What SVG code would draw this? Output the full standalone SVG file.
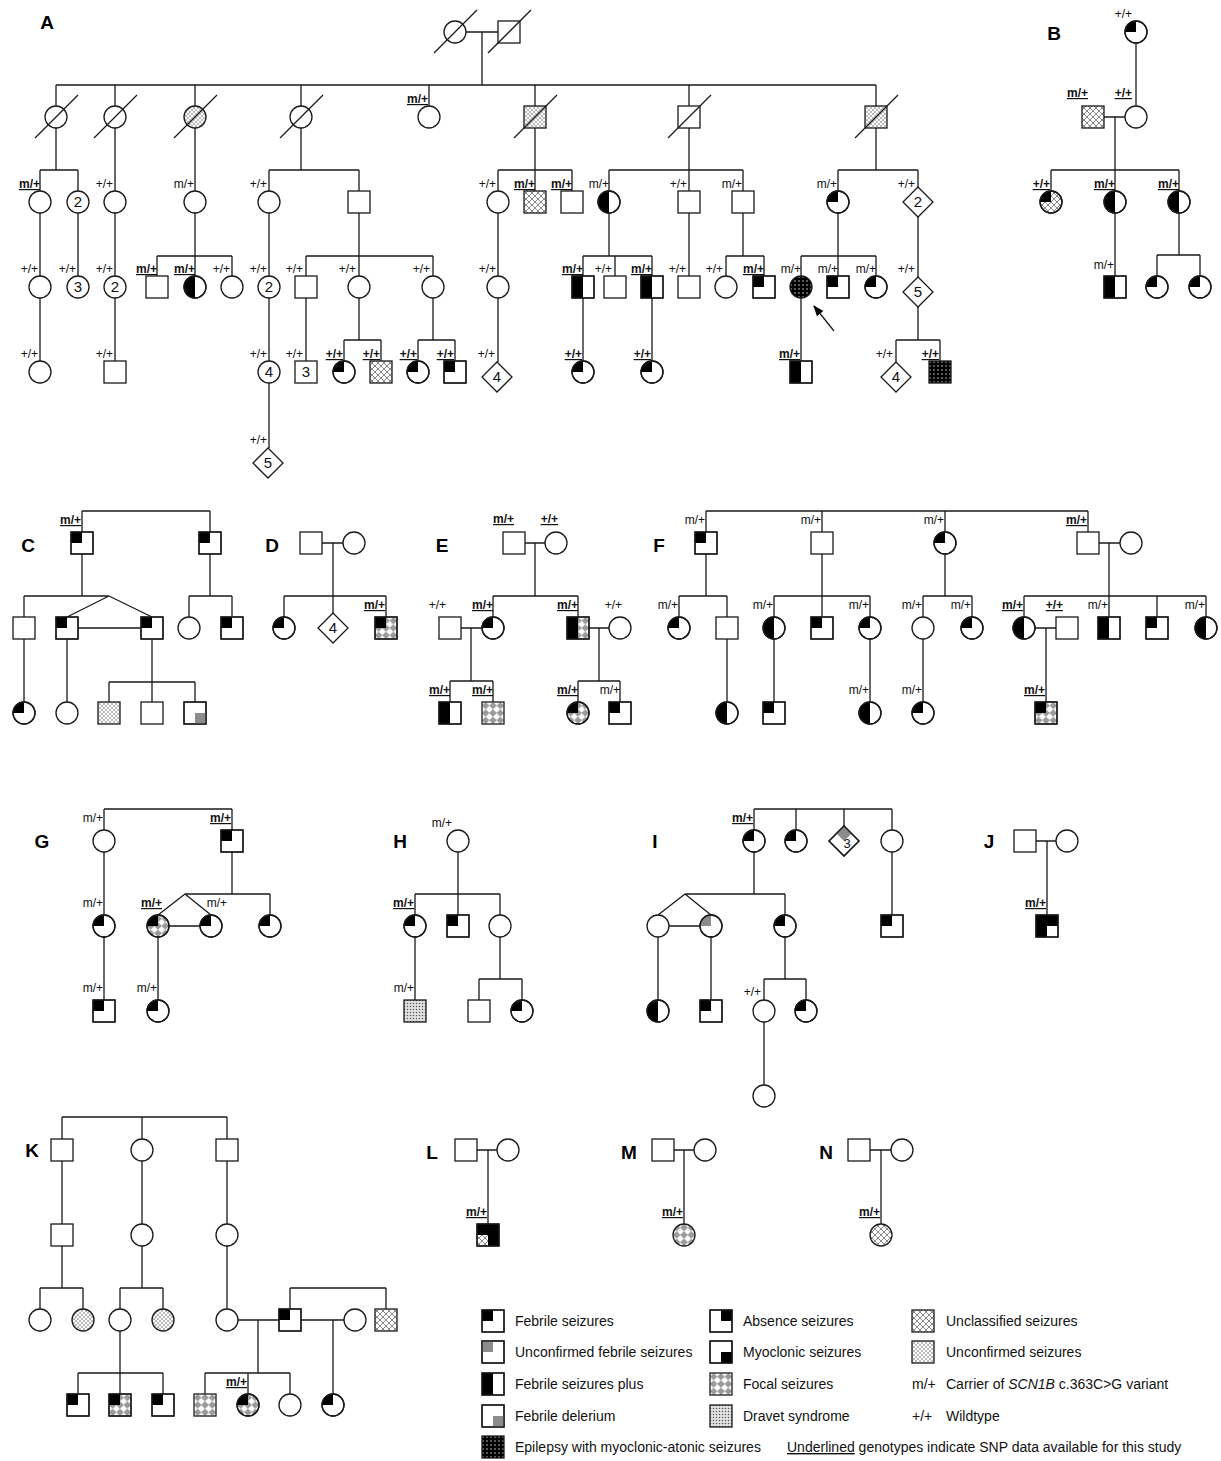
<svg xmlns="http://www.w3.org/2000/svg" xmlns:xlink="http://www.w3.org/1999/xlink" width="1221" height="1461" viewBox="0 0 1221 1461">
<style>
.o{fill:#fff;stroke:#1a1a1a;stroke-width:1.3}
.n{fill:none;stroke:#1a1a1a;stroke-width:1.3}
.k{fill:#000}
.g{fill:#8c8c8c}
.fX{fill:url(#pX)}
.fD{fill:url(#pDot)}
.fV{fill:url(#pDrv)}
.fF{fill:url(#pFoc)}
.fE{fill:url(#pEMA)}
.ln{fill:none;stroke:#1a1a1a;stroke-width:1.3}
.gt{font-family:"Liberation Sans",Arial,sans-serif;font-size:12px;fill:#111;text-anchor:end}
.gb{font-weight:bold;text-decoration:underline}
.num{font-family:"Liberation Sans",Arial,sans-serif;font-size:15px;fill:#111;text-anchor:middle}
.pl{font-family:"Liberation Sans",Arial,sans-serif;font-size:19px;font-weight:bold;fill:#000;text-anchor:middle}
.lg{font-family:"Liberation Sans",Arial,sans-serif;font-size:14px;fill:#111}
</style>
<defs>
<pattern id="pX" width="6" height="6" patternUnits="userSpaceOnUse"><rect width="6" height="6" fill="#fff"/><path d="M0,0L6,6M6,0L0,6" stroke="#555" stroke-width="0.7"/></pattern>
<pattern id="pDot" width="4" height="4" patternUnits="userSpaceOnUse"><rect width="4" height="4" fill="#fff"/><circle cx="1" cy="1" r="0.75" fill="#555"/><circle cx="3" cy="3" r="0.75" fill="#555"/></pattern>
<pattern id="pDrv" width="3" height="3" patternUnits="userSpaceOnUse"><rect width="3" height="3" fill="#e2e2e2"/><circle cx="1.5" cy="1.5" r="0.75" fill="#555"/></pattern>
<pattern id="pFoc" x="-11" y="-11" width="7.333" height="7.333" patternUnits="userSpaceOnUse"><rect width="7.333" height="7.333" fill="#fff"/><polygon points="3.67,0.4 6.93,3.67 3.67,6.93 0.4,3.67" fill="#9a9a9a" stroke="#5a5a5a" stroke-width="0.5"/></pattern>
<pattern id="pEMA" width="4" height="4" patternUnits="userSpaceOnUse"><rect width="4" height="4" fill="#000"/><circle cx="2" cy="2" r="0.65" fill="#fff"/></pattern>
<marker id="arr" viewBox="0 0 10 10" refX="9" refY="5" markerWidth="11" markerHeight="11" orient="auto" markerUnits="userSpaceOnUse"><path d="M0,1.2L10,5L0,8.8z" fill="#000"/></marker>
<circle id="c" r="11"/>
<rect id="s" x="-11" y="-11" width="22" height="22"/>
<polygon id="d" points="0,-15 15,0 0,15 -15,0"/>
<path id="cTL" d="M0,0H-11A11,11 0 0 1 0,-11Z"/>
<path id="cL" d="M0,-11A11,11 0 0 0 0,11Z"/>
<rect id="sTL" x="-11" y="-11" width="11" height="11"/>
<rect id="sTR" x="0" y="-11" width="11" height="11"/>
<rect id="sBR" x="0" y="0" width="11" height="11"/>
<rect id="sL" x="-11" y="-11" width="11" height="22"/>
<rect id="sR" x="0" y="-11" width="11" height="22"/>
<polygon id="dT" points="0,-15 7.5,-7.5 0,0 -7.5,-7.5"/>
<line id="dec" class="n" x1="-21" y1="21" x2="22" y2="-22"/>
<g id="C0"><use href="#c" class="o"/></g>
<g id="S0"><use href="#s" class="o"/></g>
<g id="D0"><use href="#d" class="o"/></g>
<g id="CFS"><use href="#c" class="o"/><use href="#cTL" class="k"/><use href="#c" class="n"/></g>
<g id="SFS"><use href="#s" class="o"/><use href="#sTL" class="k"/><use href="#s" class="n"/></g>
<g id="CHF"><use href="#c" class="o"/><use href="#cL" class="k"/><use href="#c" class="n"/></g>
<g id="SHF"><use href="#s" class="o"/><use href="#sL" class="k"/><use href="#s" class="n"/></g>
<g id="CX"><use href="#c" class="o fX"/></g>
<g id="SX"><use href="#s" class="o fX"/></g>
<g id="CXFS"><use href="#c" class="o fX"/><use href="#cTL" class="k"/><use href="#c" class="n"/></g>
<g id="CDot"><use href="#c" class="o fD"/></g>
<g id="SDot"><use href="#s" class="o fD"/></g>
<g id="SDrv"><use href="#s" class="o fV"/></g>
<g id="CFoc"><use href="#c" class="o fF"/></g>
<g id="SFoc"><use href="#s" class="o fF"/></g>
<g id="CFocFS"><use href="#c" class="o fF"/><use href="#cTL" class="k"/><use href="#c" class="n"/></g>
<g id="SFocFS"><use href="#s" class="o fF"/><use href="#sTL" class="k"/><use href="#s" class="n"/></g>
<g id="SHFFoc"><use href="#s" class="o fF"/><use href="#sL" class="k"/><use href="#s" class="n"/></g>
<g id="CEMA"><use href="#c" class="o fE"/></g>
<g id="SEMA"><use href="#s" class="o fE"/></g>
<g id="SFD"><use href="#s" class="o"/><use href="#sBR" class="g"/><use href="#s" class="n"/></g>
<g id="CUFS"><use href="#c" class="o"/><use href="#cTL" class="g"/><use href="#c" class="n"/></g>
<g id="SUFS"><use href="#s" class="o"/><use href="#sTL" class="g"/><use href="#s" class="n"/></g>
<g id="DUFS"><use href="#d" class="o"/><use href="#dT" class="g"/><use href="#d" class="n"/></g>
<g id="SAbs"><use href="#s" class="o"/><use href="#sTR" class="k"/><use href="#s" class="n"/></g>
<g id="SMyo"><use href="#s" class="o"/><use href="#sBR" class="k"/><use href="#s" class="n"/></g>
<g id="SJ"><use href="#s" class="o"/><use href="#sL" class="k"/><use href="#sTR" class="k"/><use href="#s" class="n"/></g>
<g id="SL"><use href="#s" class="o fX"/><use href="#sR" class="k"/><use href="#sTL" class="k"/><use href="#s" class="n"/></g>
</defs>
<rect width="1221" height="1461" fill="#fff"/>

<g id="panel-labels">
<text class="pl" x="47" y="29">A</text>
<text class="pl" x="1054" y="40">B</text>
<text class="pl" x="28" y="552">C</text>
<text class="pl" x="272" y="552">D</text>
<text class="pl" x="442" y="552">E</text>
<text class="pl" x="659" y="552">F</text>
<text class="pl" x="42" y="848">G</text>
<text class="pl" x="400" y="848">H</text>
<text class="pl" x="655" y="848">I</text>
<text class="pl" x="989" y="848">J</text>
<text class="pl" x="32" y="1157">K</text>
<text class="pl" x="432" y="1159">L</text>
<text class="pl" x="629" y="1159">M</text>
<text class="pl" x="826" y="1159">N</text>
</g>

<g id="connectors">
<path class="ln" d="M466,32H498 M482,32V85 M56,85H876 M56,85V106 M115,85V106 M195,85V106 M301,85V106 M429,85V106 M535,85V106 M689,85V106 M876,85V106
M56,128V170 M40,170H78 M40,170V191 M78,170V191 M115,128V191 M195,128V191
M301,128V170 M269,170H359 M269,170V191 M359,170V191
M535,128V170 M498,170H572 M498,170V191 M535,170V191 M572,170V191
M689,128V170 M609,170H743 M609,170V191 M689,170V191 M743,170V191
M876,128V170 M838,170H918 M838,170V191 M918,170V187
M40,213V276 M78,213V276 M115,213V276
M195,213V256 M157,256H232 M157,256V276 M195,256V276 M232,256V276
M269,213V276
M359,213V256 M306,256H433 M306,256V276 M359,256V276 M433,256V276
M498,213V276
M609,213V256 M583,256H652 M583,256V276 M615,256V276 M652,256V276
M689,213V276
M743,213V256 M726,256H764 M726,256V276 M764,256V276
M838,213V256 M801,256H876 M801,256V276 M838,256V276 M876,256V276
M918,217V277
M40,298V361 M115,298V361 M269,298V361 M306,298V361
M359,298V340 M344,340H381 M344,340V361 M381,340V361
M433,298V340 M418,340H455 M418,340V361 M455,340V361
M498,298V362 M583,298V361 M652,298V361 M801,298V361
M918,307V340 M896,340H940 M896,340V362 M940,340V361
M269,383V448"/>
<line class="ln" x1="834" y1="331" x2="814" y2="306" marker-end="url(#arr)"/>
<path class="ln" d="M1136,43V106 M1104,117H1125 M1115,117V170 M1051,170H1179 M1051,170V191 M1115,170V191 M1179,170V191 M1115,213V276 M1179,213V255 M1157,255H1200 M1157,255V276 M1200,255V276"/>
<path class="ln" d="M82,511H210 M82,511V532 M210,511V532 M82,554V596 M24,596H109 M24,596V617 M109,596L67,617 M109,596L152,617 M78,628H141 M210,554V596 M189,596H232 M189,596V617 M232,596V617 M24,639V702 M67,639V702 M152,639V682 M109,682H195 M109,682V702 M152,682V702 M195,682V702"/>
<path class="ln" d="M322,543H343 M333,543V596 M284,596H386 M284,596V617 M333,596V613 M386,596V617"/>
<path class="ln" d="M525,543H545 M535,543V596 M493,596H578 M493,596V617 M578,596V617 M461,628H482 M471,628V681 M450,681H493 M450,681V702 M493,681V702 M589,628H609 M599,628V681 M578,681H620 M578,681V702 M620,681V702"/>
<path class="ln" d="M706,511H1088 M706,511V532 M822,511V532 M945,511V532 M1088,511V532 M1099,543H1120 M1109,543V596
M706,554V596 M679,596H727 M679,596V617 M727,596V617 M727,639V702
M822,554V596 M774,596H870 M774,596V617 M822,596V617 M870,596V617 M774,639V702 M870,639V702
M945,554V596 M923,596H972 M923,596V617 M972,596V617 M923,639V702
M1024,596H1206 M1024,596V617 M1109,596V617 M1157,596V617 M1206,596V617 M1035,628H1056 M1046,628V702"/>
<path class="ln" d="M104,809H232 M104,809V830 M232,809V830 M104,852V915 M104,937V1000 M232,852V894 M185,894H270 M270,894V915 M185,894L158,915 M185,894L211,915 M169,926H200 M158,937V1000"/>
<path class="ln" d="M458,852V894 M415,894H500 M415,894V915 M458,894V915 M500,894V915 M415,937V1000 M500,937V979 M479,979H522 M479,979V1000 M522,979V1000"/>
<path class="ln" d="M754,809H892 M754,809V830 M796,809V830 M844,809V826 M892,809V830 M754,852V894 M685,894H785 M785,894V915 M685,894L658,915 M685,894L711,915 M669,926H700 M892,852V915 M658,937V1000 M711,937V1000 M785,937V979 M764,979H806 M764,979V1000 M806,979V1000 M764,1022V1085"/>
<path class="ln" d="M1036,841H1056 M1047,841V915"/>
<path class="ln" d="M62,1117H227 M62,1117V1139 M142,1117V1139 M227,1117V1139 M62,1161V1224 M142,1161V1224 M227,1161V1224 M62,1246V1288 M40,1288H83 M40,1288V1309 M83,1288V1309 M142,1246V1288 M120,1288H163 M120,1288V1309 M163,1288V1309 M227,1246V1309 M290,1288H386 M290,1288V1309 M386,1288V1309 M238,1320H279 M258,1320V1373 M205,1373H290 M205,1373V1394 M248,1373V1394 M290,1373V1394 M301,1320H344 M333,1320V1394 M120,1331V1373 M78,1373H163 M78,1373V1394 M120,1373V1394 M163,1373V1394"/>
<path class="ln" d="M477,1150H497 M488,1150V1224 M674,1150H694 M684,1150V1224 M870,1150H891 M881,1150V1224"/>
</g>

<g id="pedigree-A">
<g id="A_I_1" transform="translate(455,32)"><use href="#C0"/><use href="#dec"/></g>
<g id="A_I_2" transform="translate(509,32)"><use href="#S0"/><use href="#dec"/></g>
<g id="A_II_1" transform="translate(56,117)"><use href="#C0"/><use href="#dec"/></g>
<g id="A_II_2" transform="translate(115,117)"><use href="#C0"/><use href="#dec"/></g>
<g id="A_II_3" transform="translate(195,117)"><use href="#CDot"/><use href="#dec"/></g>
<g id="A_II_4" transform="translate(301,117)"><use href="#C0"/><use href="#dec"/></g>
<g id="A_II_5" transform="translate(429,117)"><use href="#C0"/><text class="gt gb" x="-1" y="-14">m/+</text></g>
<g id="A_II_6" transform="translate(535,117)"><use href="#SDot"/><use href="#dec"/></g>
<g id="A_II_7" transform="translate(689,117)"><use href="#S0"/><use href="#dec"/></g>
<g id="A_II_8" transform="translate(876,117)"><use href="#SDot"/><use href="#dec"/></g>
<g id="A_III_1" transform="translate(40,202)"><use href="#C0"/><text class="gt gb" x="0" y="-14">m/+</text></g>
<g id="A_III_2" transform="translate(78,202)"><use href="#C0"/><text class="num" y="5">2</text></g>
<g id="A_III_3" transform="translate(115,202)"><use href="#C0"/><text class="gt" x="-2" y="-14">+/+</text></g>
<g id="A_III_4" transform="translate(195,202)"><use href="#C0"/><text class="gt" x="-1" y="-14">m/+</text></g>
<g id="A_III_5" transform="translate(269,202)"><use href="#C0"/><text class="gt" x="-2" y="-14">+/+</text></g>
<g id="A_III_6" transform="translate(359,202)"><use href="#S0"/></g>
<g id="A_III_7" transform="translate(498,202)"><use href="#C0"/><text class="gt" x="-2" y="-14">+/+</text></g>
<g id="A_III_8" transform="translate(535,202)"><use href="#SX"/><text class="gt gb" x="0" y="-14">m/+</text></g>
<g id="A_III_9" transform="translate(572,202)"><use href="#S0"/><text class="gt gb" x="0" y="-14">m/+</text></g>
<g id="A_III_10" transform="translate(609,202)"><use href="#CHF"/><text class="gt" x="0" y="-14">m/+</text></g>
<g id="A_III_11" transform="translate(689,202)"><use href="#S0"/><text class="gt" x="-2" y="-14">+/+</text></g>
<g id="A_III_12" transform="translate(743,202)"><use href="#S0"/><text class="gt" x="-1" y="-14">m/+</text></g>
<g id="A_III_13" transform="translate(838,202)"><use href="#CFS"/><text class="gt" x="-1" y="-14">m/+</text></g>
<g id="A_III_14" transform="translate(918,202)"><use href="#D0"/><text class="num" y="5">2</text><text class="gt" x="-3" y="-14">+/+</text></g>
<g id="A_IV_1" transform="translate(40,287)"><use href="#C0"/><text class="gt" x="-2" y="-14">+/+</text></g>
<g id="A_IV_2" transform="translate(78,287)"><use href="#C0"/><text class="num" y="5">3</text><text class="gt" x="-2" y="-14">+/+</text></g>
<g id="A_IV_3" transform="translate(115,287)"><use href="#C0"/><text class="num" y="5">2</text><text class="gt" x="-2" y="-14">+/+</text></g>
<g id="A_IV_4" transform="translate(157,287)"><use href="#S0"/><text class="gt gb" x="0" y="-14">m/+</text></g>
<g id="A_IV_5" transform="translate(195,287)"><use href="#CHF"/><text class="gt gb" x="0" y="-14">m/+</text></g>
<g id="A_IV_6" transform="translate(232,287)"><use href="#C0"/><text class="gt" x="-2" y="-14">+/+</text></g>
<g id="A_IV_7" transform="translate(269,287)"><use href="#C0"/><text class="num" y="5">2</text><text class="gt" x="-2" y="-14">+/+</text></g>
<g id="A_IV_8" transform="translate(306,287)"><use href="#S0"/><text class="gt" x="-3" y="-14">+/+</text></g>
<g id="A_IV_9" transform="translate(359,287)"><use href="#C0"/><text class="gt" x="-3" y="-14">+/+</text></g>
<g id="A_IV_10" transform="translate(433,287)"><use href="#C0"/><text class="gt" x="-3" y="-14">+/+</text></g>
<g id="A_IV_11" transform="translate(498,287)"><use href="#C0"/><text class="gt" x="-2" y="-14">+/+</text></g>
<g id="A_IV_12" transform="translate(583,287)"><use href="#SHF"/><text class="gt gb" x="0" y="-14">m/+</text></g>
<g id="A_IV_13" transform="translate(615,287)"><use href="#S0"/><text class="gt" x="-3" y="-14">+/+</text></g>
<g id="A_IV_14" transform="translate(652,287)"><use href="#SHF"/><text class="gt gb" x="0" y="-14">m/+</text></g>
<g id="A_IV_15" transform="translate(689,287)"><use href="#S0"/><text class="gt" x="-3" y="-14">+/+</text></g>
<g id="A_IV_16" transform="translate(726,287)"><use href="#C0"/><text class="gt" x="-3" y="-14">+/+</text></g>
<g id="A_IV_17" transform="translate(764,287)"><use href="#SFS"/><text class="gt gb" x="0" y="-14">m/+</text></g>
<g id="A_IV_18" transform="translate(801,287)"><use href="#CEMA"/><text class="gt" x="0" y="-14">m/+</text></g>
<g id="A_IV_19" transform="translate(838,287)"><use href="#SFS"/><text class="gt" x="0" y="-14">m/+</text></g>
<g id="A_IV_20" transform="translate(876,287)"><use href="#CFS"/><text class="gt" x="0" y="-14">m/+</text></g>
<g id="A_IV_21" transform="translate(918,292)"><use href="#D0"/><text class="num" y="5">5</text><text class="gt" x="-3" y="-19">+/+</text></g>
<g id="A_V_1" transform="translate(40,372)"><use href="#C0"/><text class="gt" x="-2" y="-14">+/+</text></g>
<g id="A_V_2" transform="translate(115,372)"><use href="#S0"/><text class="gt" x="-2" y="-14">+/+</text></g>
<g id="A_V_3" transform="translate(269,372)"><use href="#C0"/><text class="num" y="5">4</text><text class="gt" x="-2" y="-14">+/+</text></g>
<g id="A_V_4" transform="translate(306,372)"><use href="#S0"/><text class="num" y="5">3</text><text class="gt" x="-3" y="-14">+/+</text></g>
<g id="A_V_5" transform="translate(344,372)"><use href="#CFS"/><text class="gt gb" x="-1" y="-14">+/+</text></g>
<g id="A_V_6" transform="translate(381,372)"><use href="#SX"/><text class="gt gb" x="-1" y="-14">+/+</text></g>
<g id="A_V_7" transform="translate(418,372)"><use href="#CFS"/><text class="gt gb" x="-1" y="-14">+/+</text></g>
<g id="A_V_8" transform="translate(455,372)"><use href="#SFS"/><text class="gt gb" x="-1" y="-14">+/+</text></g>
<g id="A_V_9" transform="translate(497,377)"><use href="#D0"/><text class="num" y="5">4</text><text class="gt" x="-2" y="-19">+/+</text></g>
<g id="A_V_10" transform="translate(583,372)"><use href="#CFS"/><text class="gt gb" x="-1" y="-14">+/+</text></g>
<g id="A_V_11" transform="translate(652,372)"><use href="#CFS"/><text class="gt gb" x="-1" y="-14">+/+</text></g>
<g id="A_V_12" transform="translate(801,372)"><use href="#SHF"/><text class="gt gb" x="-1" y="-14">m/+</text></g>
<g id="A_V_13" transform="translate(896,377)"><use href="#D0"/><text class="num" y="5">4</text><text class="gt" x="-3" y="-19">+/+</text></g>
<g id="A_V_14" transform="translate(940,372)"><use href="#SEMA"/><text class="gt gb" x="-1" y="-14">+/+</text></g>
<g id="A_VI_1" transform="translate(268,463)"><use href="#D0"/><text class="num" y="5">5</text><text class="gt" x="-1" y="-19">+/+</text></g>
</g>

<g id="pedigree-B">
<g id="B_I_1" transform="translate(1136,32)"><use href="#CFS"/><text class="gt" x="-4" y="-14">+/+</text></g>
<g id="B_II_1" transform="translate(1093,117)"><use href="#SX"/><text class="gt gb" x="-5" y="-20">m/+</text></g>
<g id="B_II_2" transform="translate(1136,117)"><use href="#C0"/><text class="gt gb" x="-4" y="-20">+/+</text></g>
<g id="B_III_1" transform="translate(1051,202)"><use href="#CXFS"/><text class="gt gb" x="-1" y="-14">+/+</text></g>
<g id="B_III_2" transform="translate(1115,202)"><use href="#CHF"/><text class="gt gb" x="0" y="-14">m/+</text></g>
<g id="B_III_3" transform="translate(1179,202)"><use href="#CHF"/><text class="gt gb" x="0" y="-14">m/+</text></g>
<g id="B_IV_1" transform="translate(1115,287)"><use href="#SHF"/><text class="gt" x="-1" y="-18">m/+</text></g>
<g id="B_IV_2" transform="translate(1157,287)"><use href="#CFS"/></g>
<g id="B_IV_3" transform="translate(1200,287)"><use href="#CFS"/></g>
</g>

<g id="pedigree-C">
<g id="C_I_1" transform="translate(82,543)"><use href="#SFS"/><text class="gt gb" x="-1" y="-19">m/+</text></g>
<g id="C_I_2" transform="translate(210,543)"><use href="#SFS"/></g>
<g id="C_II_1" transform="translate(24,628)"><use href="#S0"/></g>
<g id="C_II_2" transform="translate(67,628)"><use href="#SFS"/></g>
<g id="C_II_3" transform="translate(152,628)"><use href="#SFS"/></g>
<g id="C_II_4" transform="translate(189,628)"><use href="#C0"/></g>
<g id="C_II_5" transform="translate(232,628)"><use href="#SFS"/></g>
<g id="C_III_1" transform="translate(24,713)"><use href="#CFS"/></g>
<g id="C_III_2" transform="translate(67,713)"><use href="#C0"/></g>
<g id="C_III_3" transform="translate(109,713)"><use href="#SDot"/></g>
<g id="C_III_4" transform="translate(152,713)"><use href="#S0"/></g>
<g id="C_III_5" transform="translate(195,713)"><use href="#SFD"/></g>
</g>

<g id="pedigree-D">
<g id="D_I_1" transform="translate(311,543)"><use href="#S0"/></g>
<g id="D_I_2" transform="translate(354,543)"><use href="#C0"/></g>
<g id="D_II_1" transform="translate(284,628)"><use href="#CFS"/></g>
<g id="D_II_2" transform="translate(333,628)"><use href="#D0"/><text class="num" y="5">4</text></g>
<g id="D_II_3" transform="translate(386,628)"><use href="#SFocFS"/><text class="gt gb" x="-1" y="-19">m/+</text></g>
</g>

<g id="pedigree-E">
<g id="E_I_1" transform="translate(514,543)"><use href="#S0"/><text class="gt gb" x="0" y="-20">m/+</text></g>
<g id="E_I_2" transform="translate(556,543)"><use href="#C0"/><text class="gt gb" x="2" y="-20">+/+</text></g>
<g id="E_II_1" transform="translate(450,628)"><use href="#S0"/><text class="gt" x="-4" y="-19">+/+</text></g>
<g id="E_II_2" transform="translate(493,628)"><use href="#CFS"/><text class="gt gb" x="0" y="-19">m/+</text></g>
<g id="E_II_3" transform="translate(578,628)"><use href="#SHFFoc"/><text class="gt gb" x="0" y="-19">m/+</text></g>
<g id="E_II_4" transform="translate(620,628)"><use href="#C0"/><text class="gt" x="2" y="-19">+/+</text></g>
<g id="E_III_1" transform="translate(450,713)"><use href="#SHF"/><text class="gt gb" x="0" y="-19">m/+</text></g>
<g id="E_III_2" transform="translate(493,713)"><use href="#SFoc"/><text class="gt gb" x="0" y="-19">m/+</text></g>
<g id="E_III_3" transform="translate(578,713)"><use href="#CFocFS"/><text class="gt gb" x="0" y="-19">m/+</text></g>
<g id="E_III_4" transform="translate(620,713)"><use href="#SFS"/><text class="gt" x="0" y="-19">m/+</text></g>
</g>

<g id="pedigree-F">
<g id="F_I_1" transform="translate(706,543)"><use href="#SFS"/><text class="gt" x="-1" y="-19">m/+</text></g>
<g id="F_I_2" transform="translate(822,543)"><use href="#S0"/><text class="gt" x="-1" y="-19">m/+</text></g>
<g id="F_I_3" transform="translate(945,543)"><use href="#CFS"/><text class="gt" x="-1" y="-19">m/+</text></g>
<g id="F_I_4" transform="translate(1088,543)"><use href="#S0"/><text class="gt gb" x="-1" y="-19">m/+</text></g>
<g id="F_I_5" transform="translate(1131,543)"><use href="#C0"/></g>
<g id="F_II_1" transform="translate(679,628)"><use href="#CFS"/><text class="gt" x="-1" y="-19">m/+</text></g>
<g id="F_II_2" transform="translate(727,628)"><use href="#S0"/></g>
<g id="F_II_3" transform="translate(774,628)"><use href="#CHF"/><text class="gt" x="-1" y="-19">m/+</text></g>
<g id="F_II_4" transform="translate(822,628)"><use href="#SFS"/></g>
<g id="F_II_5" transform="translate(870,628)"><use href="#CFS"/><text class="gt" x="-1" y="-19">m/+</text></g>
<g id="F_II_6" transform="translate(923,628)"><use href="#C0"/><text class="gt" x="-1" y="-19">m/+</text></g>
<g id="F_II_7" transform="translate(972,628)"><use href="#CFS"/><text class="gt" x="-1" y="-19">m/+</text></g>
<g id="F_II_8" transform="translate(1024,628)"><use href="#CHF"/><text class="gt gb" x="-1" y="-19">m/+</text></g>
<g id="F_II_9" transform="translate(1067,628)"><use href="#S0"/><text class="gt gb" x="-4" y="-19">+/+</text></g>
<g id="F_II_10" transform="translate(1109,628)"><use href="#SHF"/><text class="gt" x="-1" y="-19">m/+</text></g>
<g id="F_II_11" transform="translate(1157,628)"><use href="#SFS"/></g>
<g id="F_II_12" transform="translate(1206,628)"><use href="#CHF"/><text class="gt" x="-1" y="-19">m/+</text></g>
<g id="F_III_1" transform="translate(727,713)"><use href="#CHF"/></g>
<g id="F_III_2" transform="translate(774,713)"><use href="#SFS"/></g>
<g id="F_III_3" transform="translate(870,713)"><use href="#CHF"/><text class="gt" x="-1" y="-19">m/+</text></g>
<g id="F_III_4" transform="translate(923,713)"><use href="#CFS"/><text class="gt" x="-1" y="-19">m/+</text></g>
<g id="F_III_5" transform="translate(1046,713)"><use href="#SFocFS"/><text class="gt gb" x="-1" y="-19">m/+</text></g>
</g>

<g id="pedigree-G">
<g id="G_I_1" transform="translate(104,841)"><use href="#C0"/><text class="gt" x="-1" y="-19">m/+</text></g>
<g id="G_I_2" transform="translate(232,841)"><use href="#SFS"/><text class="gt gb" x="-1" y="-19">m/+</text></g>
<g id="G_II_1" transform="translate(104,926)"><use href="#CFS"/><text class="gt" x="-1" y="-19">m/+</text></g>
<g id="G_II_2" transform="translate(158,926)"><use href="#CFocFS"/><text class="gt gb" x="4" y="-19">m/+</text></g>
<g id="G_II_3" transform="translate(211,926)"><use href="#CFS"/><text class="gt" x="16" y="-19">m/+</text></g>
<g id="G_II_4" transform="translate(270,926)"><use href="#CFS"/></g>
<g id="G_III_1" transform="translate(104,1011)"><use href="#SFS"/><text class="gt" x="-1" y="-19">m/+</text></g>
<g id="G_III_2" transform="translate(158,1011)"><use href="#CFS"/><text class="gt" x="-1" y="-19">m/+</text></g>
</g>

<g id="pedigree-H">
<g id="H_I_1" transform="translate(458,841)"><use href="#C0"/><text class="gt" x="-6" y="-14">m/+</text></g>
<g id="H_II_1" transform="translate(415,926)"><use href="#CFS"/><text class="gt gb" x="-1" y="-19">m/+</text></g>
<g id="H_II_2" transform="translate(458,926)"><use href="#SFS"/></g>
<g id="H_II_3" transform="translate(500,926)"><use href="#C0"/></g>
<g id="H_III_1" transform="translate(415,1011)"><use href="#SDrv"/><text class="gt" x="-1" y="-19">m/+</text></g>
<g id="H_III_2" transform="translate(479,1011)"><use href="#S0"/></g>
<g id="H_III_3" transform="translate(522,1011)"><use href="#CFS"/></g>
</g>

<g id="pedigree-I">
<g id="I_I_1" transform="translate(754,841)"><use href="#CFS"/><text class="gt gb" x="-1" y="-19">m/+</text></g>
<g id="I_I_2" transform="translate(796,841)"><use href="#CFS"/></g>
<g id="I_I_3" transform="translate(844,841)"><use href="#DUFS"/><text class="num" x="3" y="7" style="font-size:13px">3</text></g>
<g id="I_I_4" transform="translate(892,841)"><use href="#C0"/></g>
<g id="I_II_1" transform="translate(658,926)"><use href="#C0"/></g>
<g id="I_II_2" transform="translate(711,926)"><use href="#CUFS"/></g>
<g id="I_II_3" transform="translate(785,926)"><use href="#CFS"/></g>
<g id="I_II_4" transform="translate(892,926)"><use href="#SFS"/></g>
<g id="I_III_1" transform="translate(658,1011)"><use href="#CHF"/></g>
<g id="I_III_2" transform="translate(711,1011)"><use href="#SFS"/></g>
<g id="I_III_3" transform="translate(764,1011)"><use href="#C0"/><text class="gt" x="-3" y="-15">+/+</text></g>
<g id="I_III_4" transform="translate(806,1011)"><use href="#CFS"/></g>
<g id="I_IV_1" transform="translate(764,1096)"><use href="#C0"/></g>
</g>

<g id="pedigree-J">
<g id="J_I_1" transform="translate(1025,841)"><use href="#S0"/></g>
<g id="J_I_2" transform="translate(1067,841)"><use href="#C0"/></g>
<g id="J_II_1" transform="translate(1047,926)"><use href="#SJ"/><text class="gt gb" x="-1" y="-19">m/+</text></g>
</g>

<g id="pedigree-K">
<g id="K_I_1" transform="translate(62,1150)"><use href="#S0"/></g>
<g id="K_I_2" transform="translate(142,1150)"><use href="#C0"/></g>
<g id="K_I_3" transform="translate(227,1150)"><use href="#S0"/></g>
<g id="K_II_1" transform="translate(62,1235)"><use href="#S0"/></g>
<g id="K_II_2" transform="translate(142,1235)"><use href="#C0"/></g>
<g id="K_II_3" transform="translate(227,1235)"><use href="#C0"/></g>
<g id="K_III_1" transform="translate(40,1320)"><use href="#C0"/></g>
<g id="K_III_2" transform="translate(83,1320)"><use href="#CDot"/></g>
<g id="K_III_3" transform="translate(120,1320)"><use href="#C0"/></g>
<g id="K_III_4" transform="translate(163,1320)"><use href="#CDot"/></g>
<g id="K_III_5" transform="translate(227,1320)"><use href="#C0"/></g>
<g id="K_III_6" transform="translate(290,1320)"><use href="#SFS"/></g>
<g id="K_III_7" transform="translate(355,1320)"><use href="#C0"/></g>
<g id="K_III_8" transform="translate(386,1320)"><use href="#SX"/></g>
<g id="K_IV_1" transform="translate(78,1405)"><use href="#SFS"/></g>
<g id="K_IV_2" transform="translate(120,1405)"><use href="#SFocFS"/></g>
<g id="K_IV_3" transform="translate(163,1405)"><use href="#SFS"/></g>
<g id="K_IV_4" transform="translate(205,1405)"><use href="#SFoc"/></g>
<g id="K_IV_5" transform="translate(248,1405)"><use href="#CFocFS"/><text class="gt gb" x="-1" y="-19">m/+</text></g>
<g id="K_IV_6" transform="translate(290,1405)"><use href="#C0"/></g>
<g id="K_IV_7" transform="translate(333,1405)"><use href="#CFS"/></g>
</g>

<g id="pedigree-LMN">
<g id="L_I_1" transform="translate(466,1150)"><use href="#S0"/></g>
<g id="L_I_2" transform="translate(508,1150)"><use href="#C0"/></g>
<g id="L_II_1" transform="translate(488,1235)"><use href="#SL"/><text class="gt gb" x="-1" y="-19">m/+</text></g>
<g id="M_I_1" transform="translate(663,1150)"><use href="#S0"/></g>
<g id="M_I_2" transform="translate(705,1150)"><use href="#C0"/></g>
<g id="M_II_1" transform="translate(684,1235)"><use href="#CFoc"/><text class="gt gb" x="-1" y="-19">m/+</text></g>
<g id="N_I_1" transform="translate(859,1150)"><use href="#S0"/></g>
<g id="N_I_2" transform="translate(902,1150)"><use href="#C0"/></g>
<g id="N_II_1" transform="translate(881,1235)"><use href="#CX"/><text class="gt gb" x="-1" y="-19">m/+</text></g>
</g>

<g id="legend">
<use href="#SFS" x="493" y="1321"/>
<use href="#SUFS" x="493" y="1352"/>
<use href="#SHF" x="493" y="1384"/>
<use href="#SFD" x="493" y="1416"/>
<use href="#SEMA" x="493" y="1447"/>
<use href="#SAbs" x="721" y="1321"/>
<use href="#SMyo" x="721" y="1352"/>
<use href="#SFoc" x="721" y="1384"/>
<use href="#SDrv" x="721" y="1416"/>
<use href="#SX" x="923" y="1321"/>
<use href="#SDot" x="923" y="1352"/>
<text class="lg" x="515" y="1326">Febrile seizures</text>
<text class="lg" x="515" y="1357">Unconfirmed febrile seizures</text>
<text class="lg" x="515" y="1389">Febrile seizures plus</text>
<text class="lg" x="515" y="1421">Febrile delerium</text>
<text class="lg" x="515" y="1452">Epilepsy with myoclonic-atonic seizures</text>
<text class="lg" x="743" y="1326">Absence seizures</text>
<text class="lg" x="743" y="1357">Myoclonic seizures</text>
<text class="lg" x="743" y="1389">Focal seizures</text>
<text class="lg" x="743" y="1421">Dravet syndrome</text>
<text class="lg" x="787" y="1452"><tspan text-decoration="underline">Underlined</tspan> genotypes indicate SNP data available for this study</text>
<text class="lg" x="946" y="1326">Unclassified seizures</text>
<text class="lg" x="946" y="1357">Unconfirmed seizures</text>
<text class="lg" x="912" y="1389">m/+</text>
<text class="lg" x="946" y="1389">Carrier of <tspan font-style="italic">SCN1B</tspan> c.363C&gt;G variant</text>
<text class="lg" x="912" y="1421">+/+</text>
<text class="lg" x="946" y="1421">Wildtype</text>
</g>
</svg>
